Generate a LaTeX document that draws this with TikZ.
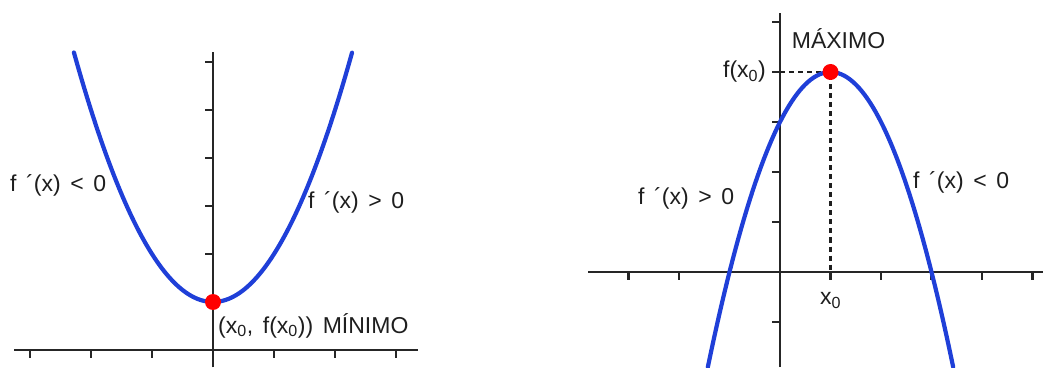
\documentclass[tikz,border=0pt]{standalone}
\usepackage{fontspec}
\setmainfont{Liberation Sans}
\usetikzlibrary{positioning}
\definecolor{grink}{HTML}{1E1E1E}
\definecolor{graxisc}{HTML}{262626}
\definecolor{grblue}{HTML}{1F3FD8}
\definecolor{grred}{HTML}{FF0000}
\newcommand\grfont{\fontsize{23}{26}\selectfont\spaceskip=0.42em\relax}
\tikzset{
  graxis/.style={draw=graxisc, line width=2.6pt},
  grtick/.style={draw=graxisc, line width=2.4pt},
  grcurve/.style={draw=grblue, line width=4.2pt, line cap=round},
  grdot/.style={circle, fill=grred, minimum size=16pt, inner sep=0pt},
  grdash/.style={draw=grink, line width=2.2pt, dash pattern=on 5pt off 4pt},
  grlabel/.style={font=\grfont, text=grink, inner sep=0pt},
}
\begin{document}
\begin{tikzpicture}[x=1pt, y=1pt]
\useasboundingbox (0,0) rectangle (1043,367);

% Left graph: minimum of y = x^2 + 1.
\begin{scope}[shift={(213,17)}, x=61pt, y=48pt]
  \draw[graxis] (-3.26,0) -- (3.36,0);
  \draw[graxis] (0,-0.36) -- (0,6.21);
  \foreach \t in {-3,-2,-1,1,2,3}
    \draw[grtick] (\t,0) -- ++(0,-8pt);
  \foreach \t in {2,...,6}
    \draw[grtick] (0,\t) -- ++(-8pt,0);
  \draw[grcurve, domain=-2.28:2.28, samples=80, smooth]
    plot (\x, {\x*\x + 1});
  \node[grdot] (minpt) at (0,1) {};
\end{scope}
\node[grlabel, anchor=west] (minneg) at (10,182) {f ´(x) < 0};
\node[grlabel, anchor=west] (minpos) at (308,165) {f ´(x) > 0};
\node[grlabel, anchor=north west] (minlab) at (218,54)
  {(x\textsubscript{0}, f(x\textsubscript{0})) MÍNIMO};

% Right graph: maximum of y = -x^2 + 2x + 3.
\begin{scope}[shift={(780,95)}, x=50.5pt, y=50pt]
  \draw[graxis] (-3.8,0) -- (5.2,0);
  \draw[graxis] (0,-1.9) -- (0,5.18);
  \foreach \t in {-3,-2,1,2,3,4,5}
    \draw[grtick] (\t,0) -- ++(0,-8pt);
  \foreach \t in {-1,1,2,3,4,5}
    \draw[grtick] (0,\t) -- ++(-8pt,0);
  \coordinate (fxo) at (0,4);
  \coordinate (xo) at (1,0);
  \draw[grdash] (fxo) -- (1,4) -- (xo);
  \draw[grcurve, domain=-1.43:3.43, samples=80, smooth]
    plot (\x, {-\x*\x + 2*\x + 3});
  \node[grdot] (maxpt) at (1,4) {};
\end{scope}
\node[grlabel, above=15pt of maxpt, xshift=8pt] (maxlab) {MÁXIMO};
\node[grlabel, left=14pt of fxo] (fxolab) {f(x\textsubscript{0})};
\node[grlabel, below=20pt of xo] (xolab) {x\textsubscript{0}};
\node[grlabel, anchor=west] (maxpos) at (638,169) {f ´(x) > 0};
\node[grlabel, anchor=west] (maxneg) at (913,185) {f ´(x) < 0};
\end{tikzpicture}
\end{document}
